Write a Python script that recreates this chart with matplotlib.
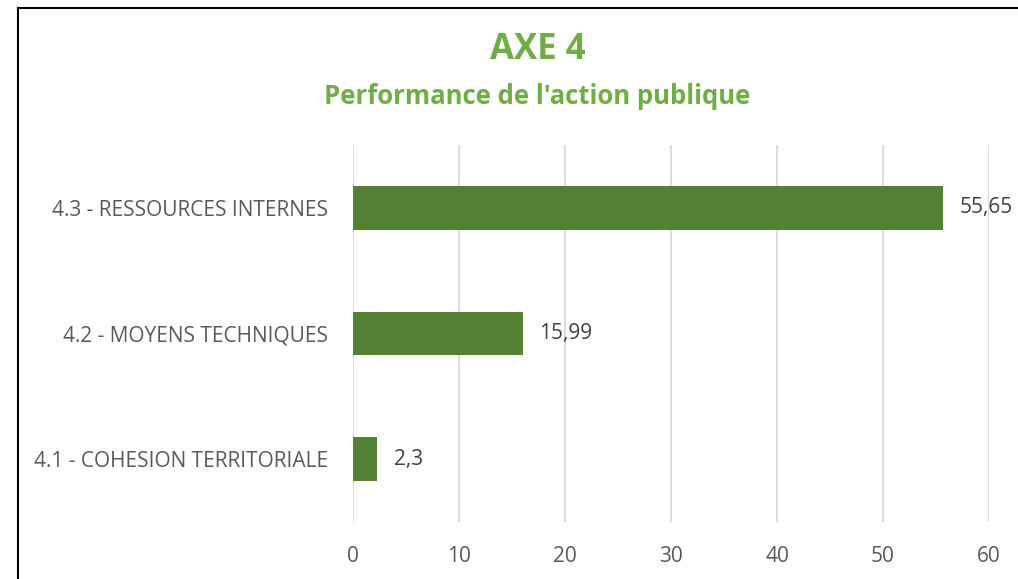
import matplotlib.pyplot as plt
from matplotlib.lines import Line2D

categories = ['4.1 - COHESION TERRITORIALE', '4.2 - MOYENS TECHNIQUES', '4.3 - RESSOURCES INTERNES']
values = [2.3, 15.99, 55.65]
value_labels = ['2,3', '15,99', '55,65']
xticks = [0, 10, 20, 30, 40, 50, 60]

plt.rcParams['font.family'] = ['Open Sans', 'DejaVu Sans']

fig = plt.figure(figsize=(10.18, 5.79), dpi=100)
ax = fig.add_axes([0.3468, 0.0984, 0.6247, 0.6512])

ax.barh(range(len(values)), values, height=0.35, color='#548235', zorder=3)
for i, (v, lab) in enumerate(zip(values, value_labels)):
    ax.annotate(lab, (v, i), xytext=(12, 0), textcoords='offset points',
                va='center', ha='left', fontsize=15, color='#404040')

ax.set_xlim(0, 60)
ax.set_ylim(-0.5, 2.5)
ax.set_xticks(xticks)
ax.set_xticklabels([str(t) for t in xticks], fontsize=15, color='#595959')
ax.set_yticks(range(len(categories)))
ax.set_yticklabels(categories, fontsize=15, color='#595959')
ax.tick_params(length=0)
ax.tick_params(axis='x', pad=17)
ax.tick_params(axis='y', pad=18)
ax.grid(axis='x', color='#d9d9d9', linewidth=1.3, zorder=0)
for s in ax.spines.values():
    s.set_visible(False)

fig.text(0.528, 0.913, 'AXE 4', ha='center', va='center', fontsize=25,
         fontweight='bold', color='#70AD47')
fig.text(0.528, 0.833, "Performance de l'action publique", ha='center', va='center',
         fontsize=18.5, fontweight='bold', color='#70AD47')

# chart frame (left and top edges visible)
fig.add_artist(Line2D([0.0175, 0.0175], [0, 0.986], transform=fig.transFigure, color='black', linewidth=1.5))
fig.add_artist(Line2D([0.0175, 1.0], [0.986, 0.986], transform=fig.transFigure, color='black', linewidth=1.5))

fig.savefig('out.png', dpi=100)
